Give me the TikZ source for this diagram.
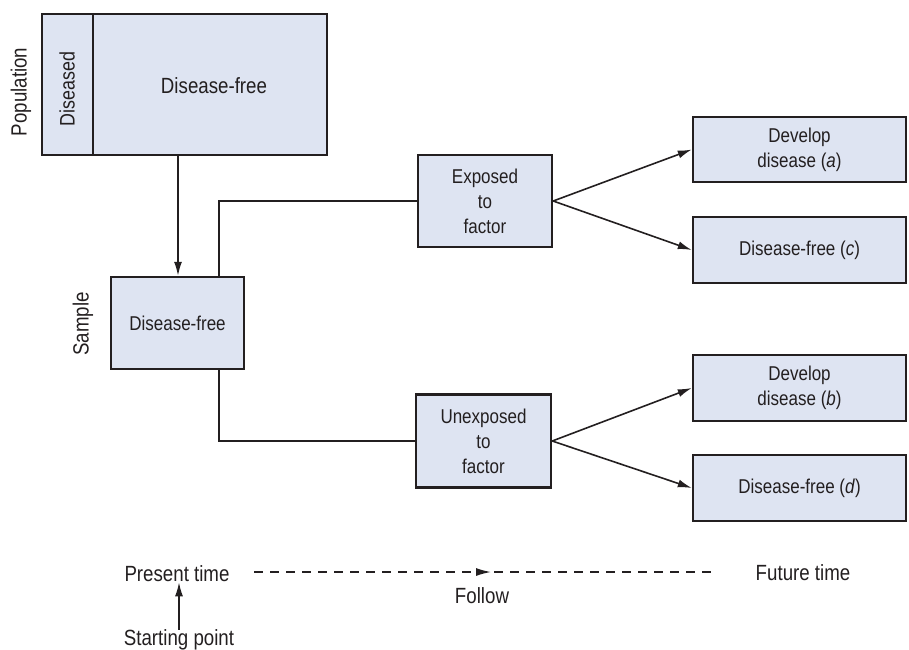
\documentclass[tikz,border=0pt]{standalone}
\usepackage{fontspec}
\setmainfont[FakeStretch=0.85]{Liberation Sans}
\usetikzlibrary{arrows.meta}
\definecolor{boxfill}{RGB}{222,228,242}
\definecolor{ink}{RGB}{35,31,32}
\begin{document}
\begin{tikzpicture}[x=1pt,y=-1pt,
  box/.style={draw=ink, line width=2.4pt, fill=boxfill, inner sep=0pt, align=center,
    font=\fontsize{20}{25}\selectfont, text=ink},
  conn/.style={draw=ink, line width=1.6pt},
  arr/.style={conn, -{Latex[length=14pt,width=8pt]}},
  lbl/.style={font=\fontsize{22}{26}\selectfont, text=ink, inner sep=0pt}]
\useasboundingbox (0,0) rectangle (909,649);

% Population
\node[box, minimum width=285pt, minimum height=141pt] (pop) at (184.5,84.5) {};
\draw[ink, line width=2.4pt] (pop.north west) ++(52,0) -- ++(0,141);
\node[lbl] (dfpop) at (214,86) {Disease-free};
\node[lbl, rotate=90, font=\fontsize{21}{25}\selectfont] (dis) at (67,89) {Diseased};
\node[lbl, rotate=90] (popl) at (21,92) {Population};

% Sample
\node[box, minimum width=133pt, minimum height=92pt] (samp) at (177.5,323) {Disease-free};
\node[lbl, rotate=90] (sampl) at (83,324) {Sample};

% Exposure groups
\node[box, minimum width=134pt, minimum height=92pt] (exp) at (485,201) {Exposed\\to\\factor};
\node[box, minimum width=135pt, minimum height=93pt] (unexp) at (483.5,441) {Unexposed\\to\\factor};

% Outcomes
\node[box, minimum width=213pt, minimum height=65pt] (da) at (799.5,149.5) {Develop\\disease (\textit{a})};
\node[box, minimum width=213pt, minimum height=66pt] (dc) at (799.5,250) {Disease-free (\textit{c})};
\node[box, minimum width=213pt, minimum height=66pt] (db) at (799.5,388) {Develop\\disease (\textit{b})};
\node[box, minimum width=213pt, minimum height=66pt] (dd) at (799.5,488) {Disease-free (\textit{d})};

% Connectors
\draw[arr] ([xshift=-6.5pt]pop.south) -- ([xshift=0.5pt]samp.north);
\draw[conn] ([xshift=41.5pt]samp.north) |- (exp.west);
\draw[conn] ([xshift=41.5pt]samp.south) |- (unexp.west);
\draw[arr] (exp.east) -- (da.west);
\draw[arr] (exp.east) -- (dc.west);
\draw[arr] (unexp.east) -- (db.west);
\draw[arr] (unexp.east) -- (dd.west);

% Time line
\node[lbl] (present) at (177,574) {Present time};
\node[lbl] (future) at (803,573) {Future time};
\node[lbl] (follow) at (482,596) {Follow};
\node[lbl] (start) at (179,640) {Starting point};
\coordinate (ds) at (254,572);
\coordinate (de) at (713,572);
\coordinate (m1) at (476,572);
\coordinate (m2) at (491,572);
\draw[conn, line width=1.4pt, dash pattern=on 9pt off 7pt] (ds) -- (de);
\draw[ink, line width=1.4pt, -{Latex[length=15pt,width=8pt]}] (m1) -- (m2);
\draw[arr] (start.north) -- (start.north |- present.south);
\end{tikzpicture}
\end{document}
